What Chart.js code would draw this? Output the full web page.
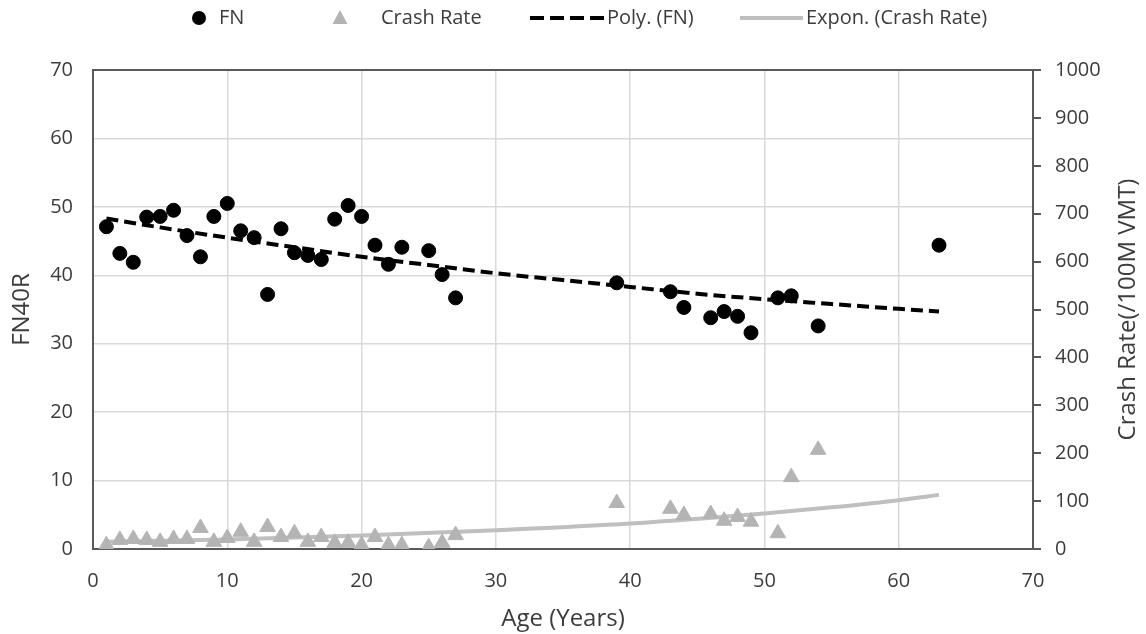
<!DOCTYPE html>
<html>
<head>
<meta charset="utf-8">
<script src="https://cdn.jsdelivr.net/npm/chart.js@4/dist/chart.umd.min.js"></script>
<style>
    html, body { margin: 0; padding: 0; background: #fff; }
    #wrap { width: 1146px; height: 634px; }
</style>
</head>
<body>
<div id="wrap"><canvas id="myChart" width="1146" height="634"></canvas></div>
<script>
// 年齢（x軸）
const ages = [1, 2, 3, 4, 5, 6, 7, 8, 9, 10, 11, 12, 13, 14, 15, 16, 17, 18, 19, 20, 21, 22, 23, 25, 26, 27, 39, 43, 44, 46, 47, 48, 49, 51, 52, 54, 63];
// FN40R（左軸）
const fnValues = [47.1, 43.2, 41.9, 48.5, 48.6, 49.5, 45.8, 42.7, 48.6, 50.5, 46.5, 45.5, 37.2, 46.8, 43.3, 42.9, 42.3, 48.2, 50.2, 48.6, 44.4, 41.6, 44.1, 43.6, 40.1, 36.7, 38.9, 37.6, 35.3, 33.8, 34.7, 34.0, 31.6, 36.7, 37.0, 32.6, 44.4];
// 事故率（右軸）
const crashRates = [8, 19, 21, 19, 15, 21, 21, 44, 15, 23, 36, 15, 46, 25, 33, 15, 25, 13, 13, 8, 25, 8, 8, 4, 13, 29, 96, 84, 71, 73, 59, 67, 57, 33, 150, 207, null];
// 近似曲線
const polyAges = [1, 5, 10, 15, 20, 25, 30, 35, 40, 45, 50, 55, 60, 63];
const polyValues = [48.3, 47.0, 45.5, 44.1, 42.7, 41.5, 40.3, 39.3, 38.3, 37.3, 36.5, 35.8, 35.1, 34.7];
const exponAges = [1, 10, 20, 30, 40, 50, 55, 60, 63];
const exponValues = [15, 20, 28, 39, 53, 74, 87, 102, 113];
// 軸の目盛り
const xTicks = [0, 10, 20, 30, 40, 50, 60, 70];
const yTicks = [0, 10, 20, 30, 40, 50, 60, 70];
const y1Ticks = [0, 100, 200, 300, 400, 500, 600, 700, 800, 900, 1000];

const labelColor = "#3c3c3c";
const axisColor = "#595959";
const gridColor = "#d9d9d9";
const grayMark = "#b4b4b4";
const grayLine = "#bfbfbf";
const fontFamily = "'Open Sans', sans-serif";
const rightTitle = "Crash Rate(/100M VMT)";

const toPoints = (xs, ys) => xs.map((x, i) => ({ x: x, y: ys[i] }));

// 凡例と右軸タイトルを描くプラグイン
const legendPlugin = {
    id: "customLegend",
    afterDraw(chart) {
        const ctx = chart.ctx;
        const y = 18;
        const items = [
            { glyph: "circle", gx: 199, tx: 219 },
            { glyph: "triangle", gx: 340, tx: 381 },
            { glyph: "dash", gx: 530, gw: 75, tx: 607 },
            { glyph: "line", gx: 740, gw: 63, tx: 806 },
        ];
        ctx.save();
        ctx.font = "20px " + fontFamily;
        ctx.textBaseline = "middle";
        ctx.fillStyle = labelColor;
        chart.data.datasets.forEach((ds, i) => {
            const it = items[i];
            ctx.save();
            if (it.glyph === "circle") {
                ctx.fillStyle = "#000";
                ctx.beginPath();
                ctx.arc(it.gx, y, 7, 0, Math.PI * 2);
                ctx.fill();
            } else if (it.glyph === "triangle") {
                ctx.fillStyle = grayMark;
                ctx.beginPath();
                ctx.moveTo(it.gx, y - 8);
                ctx.lineTo(it.gx + 7.5, y + 6);
                ctx.lineTo(it.gx - 7.5, y + 6);
                ctx.closePath();
                ctx.fill();
            } else {
                ctx.strokeStyle = it.glyph === "dash" ? "#000" : grayLine;
                ctx.lineWidth = 4;
                ctx.setLineDash(it.glyph === "dash" ? [14, 6] : []);
                ctx.beginPath();
                ctx.moveTo(it.gx, y);
                ctx.lineTo(it.gx + it.gw, y);
                ctx.stroke();
            }
            ctx.restore();
            ctx.fillText(ds.label, it.tx, y);
        });
        ctx.restore();

        // 右軸のタイトル（下から上へ読む向き）
        const area = chart.chartArea;
        ctx.save();
        ctx.font = "24px " + fontFamily;
        ctx.fillStyle = labelColor;
        ctx.textAlign = "center";
        ctx.textBaseline = "middle";
        ctx.translate(1128, (area.top + area.bottom) / 2);
        ctx.rotate(-Math.PI / 2);
        ctx.fillText(rightTitle, 0, 0);
        ctx.restore();
    },
};

function drawChart() {
    const data = {
        datasets: [
            {
                label: "FN",
                data: toPoints(ages, fnValues),
                yAxisID: "y",
                backgroundColor: "#000",
                borderColor: "#000",
                pointRadius: 7,
                pointStyle: "circle",
                showLine: false,
                order: 1,
            },
            {
                label: "Crash Rate",
                data: toPoints(ages, crashRates),
                yAxisID: "y1",
                backgroundColor: grayMark,
                borderColor: grayMark,
                pointRadius: 9,
                pointStyle: "triangle",
                showLine: false,
                order: 2,
            },
            {
                label: "Poly. (FN)",
                data: toPoints(polyAges, polyValues),
                yAxisID: "y",
                borderColor: "#000",
                borderWidth: 4,
                borderDash: [12, 6],
                pointRadius: 0,
                showLine: true,
                cubicInterpolationMode: "monotone",
                order: 0,
            },
            {
                label: "Expon. (Crash Rate)",
                data: toPoints(exponAges, exponValues),
                yAxisID: "y1",
                borderColor: grayLine,
                borderWidth: 4,
                pointRadius: 0,
                showLine: true,
                cubicInterpolationMode: "monotone",
                order: 3,
            },
        ],
    };

    const tickFont = { family: fontFamily, size: 20 };
    const titleFont = { family: fontFamily, size: 24 };

    new Chart(document.getElementById("myChart"), {
        type: "scatter",
        data,
        plugins: [legendPlugin],
        options: {
            responsive: false,
            animation: false,
            layout: { padding: { top: 70, left: 0, right: 0, bottom: 0 } },
            plugins: { legend: { display: false }, tooltip: { enabled: false } },
            scales: {
                x: {
                    type: "linear",
                    min: xTicks[0],
                    max: xTicks[xTicks.length - 1],
                    afterBuildTicks: (s) => { s.ticks = xTicks.map((v) => ({ value: v })); },
                    afterFit: (s) => { s.height = 85; },
                    grid: { color: gridColor, lineWidth: 1.5, drawTicks: false },
                    border: { color: axisColor, width: 2 },
                    ticks: { color: labelColor, font: tickFont, padding: 20, maxRotation: 0, callback: (v) => String(v) },
                    title: { display: true, text: "Age (Years)", color: labelColor, font: titleFont, padding: { top: 0, bottom: 0 } },
                },
                y: {
                    position: "left",
                    min: yTicks[0],
                    max: yTicks[yTicks.length - 1],
                    afterBuildTicks: (s) => { s.ticks = yTicks.map((v) => ({ value: v })); },
                    afterFit: (s) => { s.width = 93; },
                    grid: {
                        color: (c) => (c.tick && c.tick.value === 70 ? axisColor : gridColor),
                        lineWidth: (c) => (c.tick && c.tick.value === 70 ? 2 : 1.5),
                        drawTicks: false,
                    },
                    border: { color: axisColor, width: 2 },
                    ticks: { color: labelColor, font: tickFont, padding: 20, callback: (v) => String(v) },
                    title: { display: true, text: "FN40R", color: labelColor, font: titleFont, padding: { top: 8, bottom: 0 } },
                },
                y1: {
                    position: "right",
                    min: y1Ticks[0],
                    max: y1Ticks[y1Ticks.length - 1],
                    afterBuildTicks: (s) => { s.ticks = y1Ticks.map((v) => ({ value: v })); },
                    afterFit: (s) => { s.width = 113; },
                    grid: { drawOnChartArea: false, drawTicks: true, tickLength: 8, color: axisColor, lineWidth: 2 },
                    border: { color: axisColor, width: 2 },
                    ticks: { color: labelColor, font: tickFont, padding: 14, callback: (v) => String(v) },
                    title: { display: false },
                },
            },
        },
    });
}

window.onload = function () {
    drawChart();
};
</script>
</body>
</html>
